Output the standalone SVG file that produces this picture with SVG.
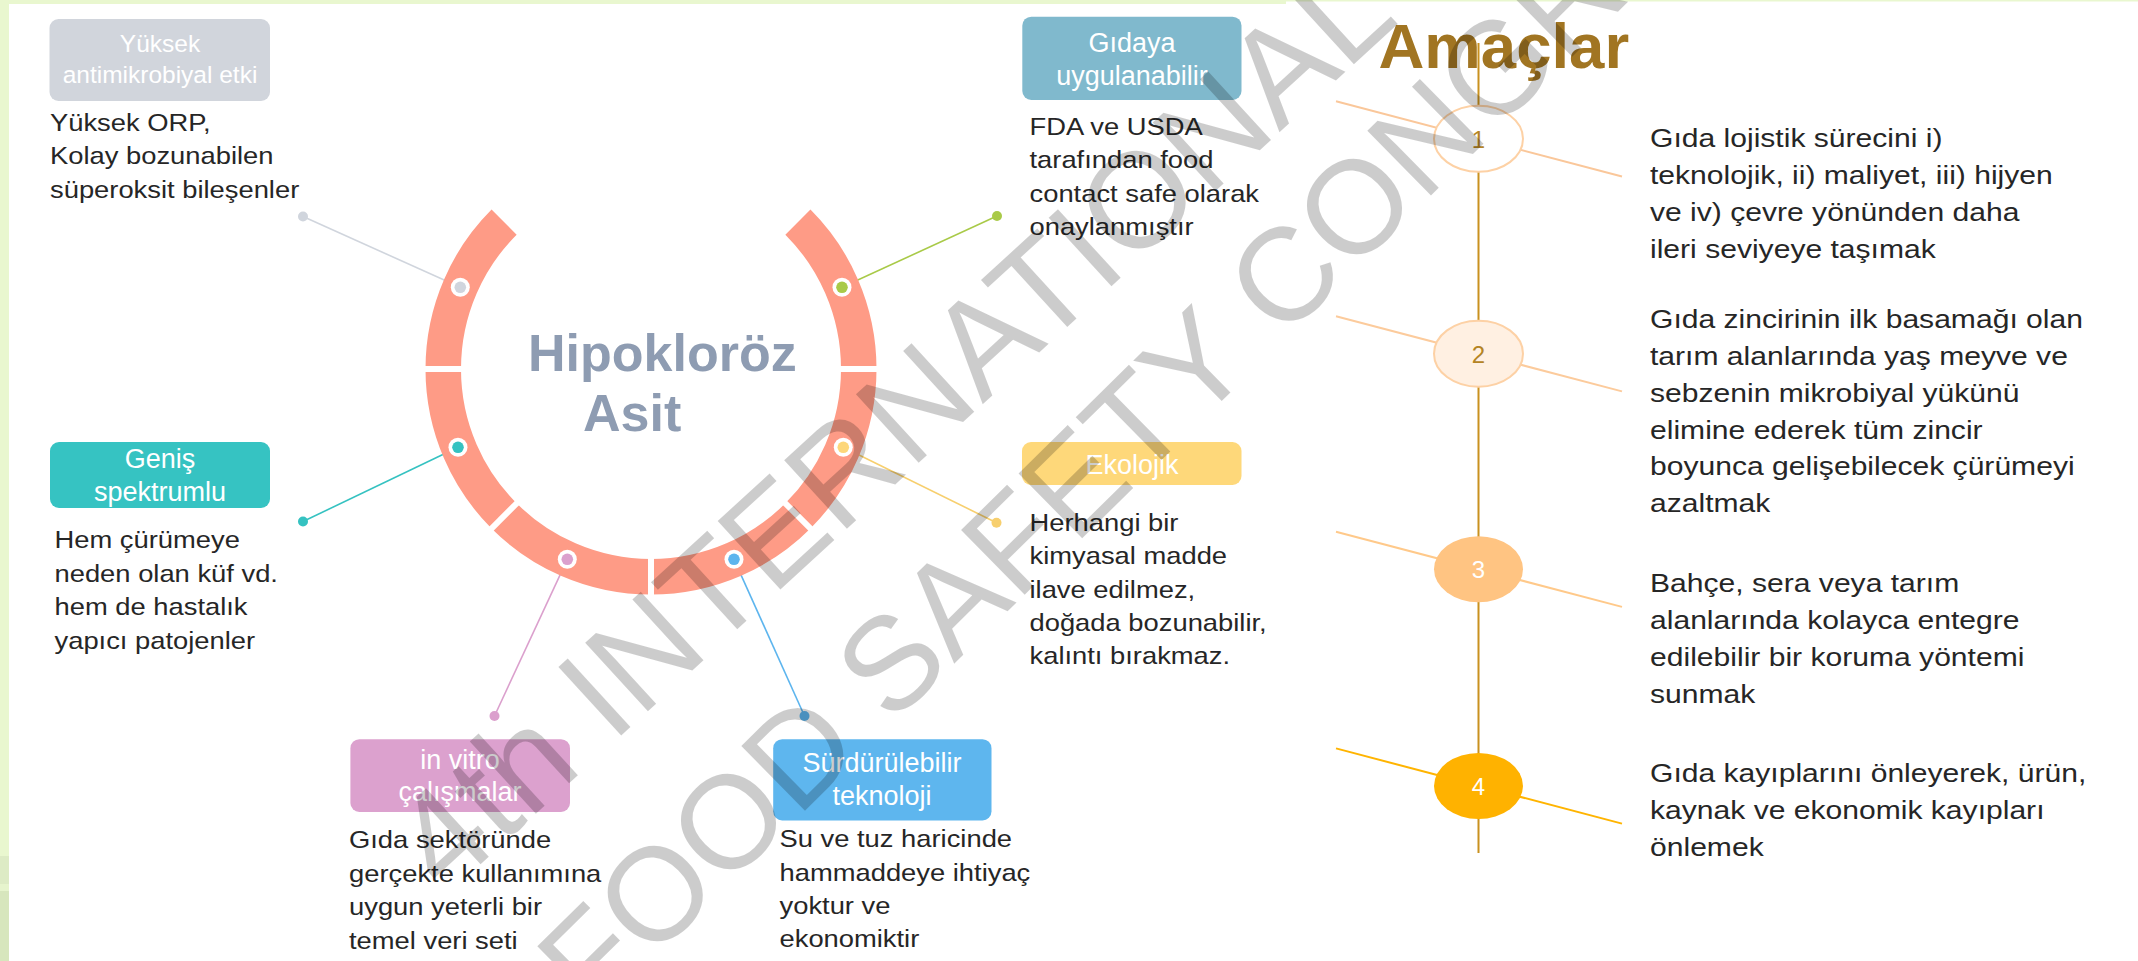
<svg xmlns="http://www.w3.org/2000/svg" width="2138" height="961" viewBox="0 0 2138 961">
<style>
text{font-family:"Liberation Sans",Arial,sans-serif}
.lbl{font-size:27px;fill:#ffffff;text-anchor:middle}
.body{font-size:24px;fill:#262626}
.rt{font-size:25.5px;fill:#262626}
.conn{stroke-width:1.6;fill:none}
.num{font-size:24px;text-anchor:middle}
.wm{font-size:132px;fill:#000;fill-opacity:0.2}
</style>
<rect x="0" y="0" width="2138" height="961" fill="#ffffff"/>
<g id="frame">
<rect x="0" y="0" width="1286" height="4" fill="#E9F7CF"/>
<rect x="1286" y="0" width="852" height="1.5" fill="#E9F7CF"/>
<rect x="0" y="0" width="9" height="856" fill="#E9F7CF"/>
<rect x="0" y="856" width="9" height="28" fill="#DDEBC5"/>
<rect x="0" y="884" width="9" height="7" fill="#E6F4CD"/>
<rect x="0" y="891" width="9" height="70" fill="#D7E6BD"/>
</g>
<g id="connectors">
<line class="conn" x1="303" y1="216.5" x2="460.3" y2="287.3" stroke="#D0D5DD"/>
<circle cx="303" cy="216.5" r="5" fill="#D0D5DD"/>
<line class="conn" x1="303" y1="521.5" x2="458" y2="447.3" stroke="#35C2C1"/>
<circle cx="303" cy="521.5" r="5" fill="#35C2C1"/>
<line class="conn" x1="494.5" y1="716" x2="567.3" y2="559.3" stroke="#DBA0CD"/>
<circle cx="494.5" cy="716" r="5" fill="#DBA0CD"/>
<line class="conn" x1="804.5" y1="716" x2="734" y2="559.3" stroke="#5DB5EE"/>
<circle cx="804.5" cy="716" r="5" fill="#5DB5EE"/>
<line class="conn" x1="996.5" y1="522.7" x2="843.3" y2="447.3" stroke="#F7CF6E"/>
<circle cx="996.5" cy="522.7" r="5" fill="#F7CF6E"/>
<line class="conn" x1="997" y1="216" x2="842" y2="287.3" stroke="#A9CA48"/>
<circle cx="997" cy="216" r="5" fill="#A9CA48"/>
</g>
<g id="ring">
<path d="M 797.9 222.1 A 207.75 207.75 0 1 1 504.1 222.1" fill="none" stroke="#FE9B86" stroke-width="35.5"/>
<g stroke="#ffffff" stroke-width="6">
<line x1="836" y1="369" x2="882" y2="369"/>
<line x1="781.8" y1="499.8" x2="814.3" y2="532.3"/>
<line x1="651" y1="554" x2="651" y2="600"/>
<line x1="520.2" y1="499.8" x2="487.7" y2="532.3"/>
<line x1="466" y1="369" x2="420" y2="369"/>
</g>
<g stroke="none">
<circle cx="460.3" cy="287.3" r="9.5" fill="#fff"/><circle cx="460.3" cy="287.3" r="5.8" fill="#D0D5DD"/>
<circle cx="458" cy="447.3" r="9.5" fill="#fff"/><circle cx="458" cy="447.3" r="5.8" fill="#35C2C1"/>
<circle cx="567.3" cy="559.3" r="9.5" fill="#fff"/><circle cx="567.3" cy="559.3" r="5.8" fill="#DBA0CD"/>
<circle cx="734" cy="559.3" r="9.5" fill="#fff"/><circle cx="734" cy="559.3" r="5.8" fill="#5DB5EE"/>
<circle cx="843.3" cy="447.3" r="9.5" fill="#fff"/><circle cx="843.3" cy="447.3" r="5.8" fill="#FDD77A"/>
<circle cx="842" cy="287.3" r="9.5" fill="#fff"/><circle cx="842" cy="287.3" r="5.8" fill="#A9CA48"/>
</g>
<text x="528" y="370.7" font-size="52" font-weight="bold" fill="#8E9CB2">Hipokloröz</text>
<text x="583" y="430.7" font-size="52" font-weight="bold" fill="#8E9CB2">Asit</text>
</g>
<g id="node-antimikrobiyal">
<rect x="49.5" y="19" width="220.5" height="82" rx="9" fill="#D1D5DC"/>
<text class="lbl" style="font-size:24.5px"><tspan x="160" y="52.3">Yüksek</tspan><tspan x="160" y="83.3">antimikrobiyal etki</tspan></text>
<g transform="translate(50,0) scale(1.14,1)"><text class="body"><tspan x="0" y="131">Yüksek ORP,</tspan><tspan x="0" y="164.3">Kolay bozunabilen</tspan><tspan x="0" y="197.7">süperoksit bileşenler</tspan></text></g>
</g>
<g id="node-genis">
<rect x="50" y="442" width="220" height="66" rx="9" fill="#36C3C2"/>
<text class="lbl"><tspan x="160" y="467.5">Geniş</tspan><tspan x="160" y="501">spektrumlu</tspan></text>
<g transform="translate(54.5,0) scale(1.14,1)"><text class="body"><tspan x="0" y="548.5">Hem çürümeye</tspan><tspan x="0" y="581.9">neden olan küf vd.</tspan><tspan x="0" y="615.3">hem de hastalık</tspan><tspan x="0" y="648.7">yapıcı patojenler</tspan></text></g>
</g>
<g id="node-invitro">
<rect x="350.4" y="739.2" width="219.6" height="72.8" rx="9" fill="#DCA1CE"/>
<text class="lbl"><tspan x="460" y="768.6">in vitro</tspan><tspan x="460" y="800.8">çalışmalar</tspan></text>
<g transform="translate(349,0) scale(1.14,1)"><text class="body"><tspan x="0" y="848.2">Gıda sektöründe</tspan><tspan x="0" y="881.8">gerçekte kullanımına</tspan><tspan x="0" y="915.4">uygun yeterli bir</tspan><tspan x="0" y="949">temel veri seti</tspan></text></g>
</g>
<g id="node-surdurulebilir">
<rect x="773.2" y="739.2" width="218.3" height="81.2" rx="9" fill="#5EB6EE"/>
<text class="lbl"><tspan x="882" y="772">Sürdürülebilir</tspan><tspan x="882" y="805.2">teknoloji</tspan></text>
<g transform="translate(779.5,0) scale(1.14,1)"><text class="body"><tspan x="0" y="847.2">Su ve tuz haricinde</tspan><tspan x="0" y="880.6">hammaddeye ihtiyaç</tspan><tspan x="0" y="914">yoktur ve</tspan><tspan x="0" y="947.4">ekonomiktir</tspan></text></g>
</g>
<g id="node-ekolojik">
<rect x="1022" y="442" width="219.5" height="43" rx="9" fill="#FED87A"/>
<text class="lbl"><tspan x="1132" y="474">Ekolojik</tspan></text>
<g transform="translate(1029.5,0) scale(1.14,1)"><text class="body"><tspan x="0" y="530.9">Herhangi bir</tspan><tspan x="0" y="564.3">kimyasal madde</tspan><tspan x="0" y="597.7">ilave edilmez,</tspan><tspan x="0" y="631.1">doğada bozunabilir,</tspan><tspan x="0" y="664.5">kalıntı bırakmaz.</tspan></text></g>
</g>
<g id="node-gidaya">
<rect x="1022.3" y="16.7" width="219.2" height="83.3" rx="9" fill="#80B9CD"/>
<text class="lbl"><tspan x="1132" y="51.7">Gıdaya</tspan><tspan x="1132" y="85">uygulanabilir</tspan></text>
<g transform="translate(1029.5,0) scale(1.14,1)"><text class="body"><tspan x="0" y="135">FDA ve USDA</tspan><tspan x="0" y="168.3">tarafından food</tspan><tspan x="0" y="201.7">contact safe olarak</tspan><tspan x="0" y="235">onaylanmıştır</tspan></text></g>
</g>
<g id="amaclar-title">
<text x="1378.5" y="68.3" font-size="63.5" font-weight="bold" fill="#A17522">Amaçlar</text>
</g>
<g id="timeline">
<line x1="1478.5" y1="43" x2="1478.5" y2="853" stroke="#C9911F" stroke-width="2"/>
<line x1="1336" y1="101.3" x2="1622" y2="176.5" stroke="#FAC79A" stroke-width="2"/>
<line x1="1336" y1="316.2" x2="1622" y2="391.4" stroke="#FCCB9C" stroke-width="2"/>
<line x1="1336" y1="531.7" x2="1622" y2="606.9" stroke="#FFC98A" stroke-width="2"/>
<line x1="1336" y1="748.4" x2="1622" y2="823.6" stroke="#FFB400" stroke-width="2"/>
</g>
<g id="goal-1">
<ellipse cx="1478.5" cy="138.8" rx="44.5" ry="33" fill="#ffffff" stroke="#FDD1A5" stroke-width="2"/>
<text class="num" x="1478.5" y="147.5" fill="#B48424">1</text>
<g transform="translate(1650,0) scale(1.18,1)"><text class="rt"><tspan x="0" y="147.3">Gıda lojistik sürecini i)</tspan><tspan x="0" y="184.1">teknolojik, ii) maliyet, iii) hijyen</tspan><tspan x="0" y="220.9">ve iv) çevre yönünden daha</tspan><tspan x="0" y="257.7">ileri seviyeye taşımak</tspan></text></g>
</g>
<g id="goal-2">
<ellipse cx="1478.5" cy="353.7" rx="44.5" ry="33" fill="#FFF0E2" stroke="#FDD1A5" stroke-width="2"/>
<text class="num" x="1478.5" y="362.5" fill="#B48424">2</text>
<g transform="translate(1650,0) scale(1.18,1)"><text class="rt"><tspan x="0" y="328.3">Gıda zincirinin ilk basamağı olan</tspan><tspan x="0" y="365.1">tarım alanlarında yaş meyve ve</tspan><tspan x="0" y="401.9">sebzenin mikrobiyal yükünü</tspan><tspan x="0" y="438.7">elimine ederek tüm zincir</tspan><tspan x="0" y="475.5">boyunca gelişebilecek çürümeyi</tspan><tspan x="0" y="512.3">azaltmak</tspan></text></g>
</g>
<g id="goal-3">
<ellipse cx="1478.5" cy="569.2" rx="44.5" ry="33" fill="#FFC482"/>
<text class="num" x="1478.5" y="578" fill="#ffffff">3</text>
<g transform="translate(1650,0) scale(1.18,1)"><text class="rt"><tspan x="0" y="591.9">Bahçe, sera veya tarım</tspan><tspan x="0" y="628.8">alanlarında kolayca entegre</tspan><tspan x="0" y="665.7">edilebilir bir koruma yöntemi</tspan><tspan x="0" y="702.6">sunmak</tspan></text></g>
</g>
<g id="goal-4">
<ellipse cx="1478.5" cy="785.9" rx="44.5" ry="33" fill="#FFB200"/>
<text class="num" x="1478.5" y="794.7" fill="#ffffff">4</text>
<g transform="translate(1650,0) scale(1.18,1)"><text class="rt"><tspan x="0" y="782.2">Gıda kayıplarını önleyerek, ürün,</tspan><tspan x="0" y="819">kaynak ve ekonomik kayıpları</tspan><tspan x="0" y="855.8">önlemek</tspan></text></g>
</g>
<g id="watermark">
<text class="wm" style="font-size:135px" transform="translate(446,896.1) rotate(-42.5)">4th INTERNATIONAL</text>
<text class="wm" transform="translate(593.2,1018.6) rotate(-44.5)">FOOD SAFETY CONGRESS</text>
</g>
</svg>
